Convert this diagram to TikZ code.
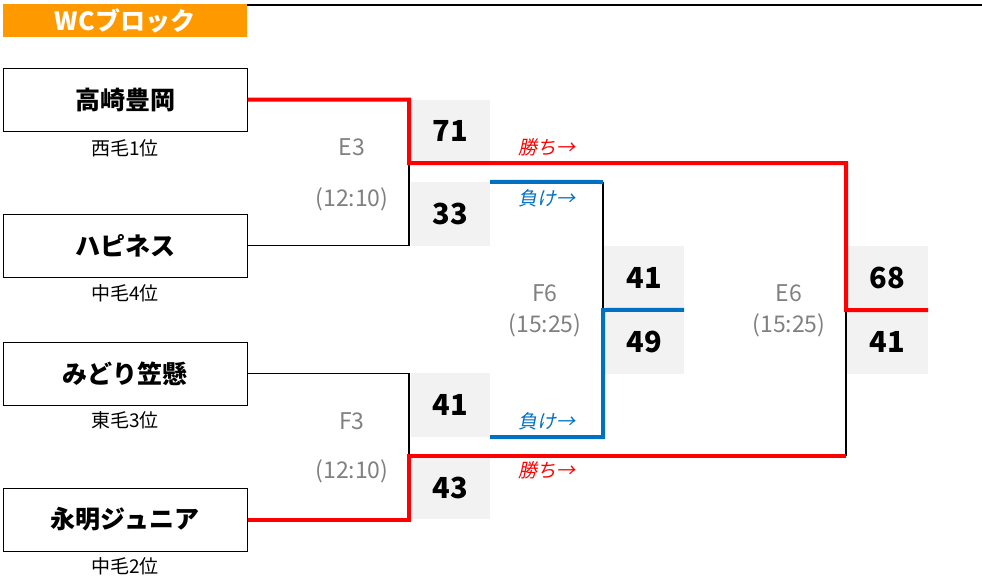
\documentclass[tikz,border=0pt]{standalone}
\usepackage{fontspec}
\setmainfont{Noto Sans CJK JP}
\newfontfamily\jpit{Noto Sans CJK JP}[FakeSlant=0.2]
\definecolor{hdrorange}{RGB}{255,153,0}
\definecolor{scoregray}{RGB}{242,242,242}
\definecolor{labelgray}{RGB}{128,128,128}
\definecolor{winred}{RGB}{255,0,0}
\definecolor{loseblue}{RGB}{0,112,192}
\tikzset{
  team/.style={draw=black, line width=1pt, minimum width=244pt, minimum height=63pt, inner sep=0pt, font=\bfseries\fontsize{25}{25}\selectfont},
  score/.style={fill=scoregray, minimum width=79pt, minimum height=64pt, inner sep=0pt, font=\bfseries\fontsize{29}{29}\selectfont},
  rank/.style={font=\fontsize{19}{19}\selectfont, inner sep=0pt},
  game/.style={text=labelgray, font=\fontsize{23}{23}\selectfont, inner sep=0pt},
  wintxt/.style={text=winred, font=\jpit\fontsize{19}{19}\selectfont, inner sep=0pt},
  losetxt/.style={text=loseblue, font=\jpit\fontsize{19}{19}\selectfont, inner sep=0pt},
  winl/.style={draw=winred, line width=4pt},
  losel/.style={draw=loseblue, line width=4pt},
  thinl/.style={draw=black, line width=1.2pt},
}
\begin{document}
\begin{tikzpicture}[x=1pt,y=-1pt]
\useasboundingbox (0,0) rectangle (982,582);
% header
\node[fill=hdrorange, minimum width=244pt, minimum height=33pt, inner sep=0pt, text=white, font=\bfseries\fontsize{25}{25}\selectfont] (hdr) at (125,20.5) {WCブロック};
\coordinate (topend) at (982,5);
\draw[line width=1.5pt] (hdr.north east |- topend) -- (topend);
% teams
\node[team] (t1) at (125,99.5) {高崎豊岡};
\node[team] (t2) at (125,245.5) {ハピネス};
\node[team] (t3) at (125,373.5) {みどり笠懸};
\node[team] (t4) at (125,519.5) {永明ジュニア};
\node[rank] (r1) at (125,148) {西毛1位};
\node[rank] (r2) at (125,293) {中毛4位};
\node[rank] (r3) at (125,420) {東毛3位};
\node[rank] (r4) at (125,566) {中毛2位};
% scores
\node[score, minimum height=63pt] (s71) at (450.5,131) {71};
\node[score] (s33) at (450.5,214) {33};
\node[score] (s41a) at (450.5,405) {41};
\node[score, minimum height=63pt] (s43) at (450.5,487.5) {43};
\node[score, minimum width=80pt] (s41b) at (644,278) {41};
\node[score, minimum width=80pt] (s49) at (644,342) {49};
\node[score, minimum width=81pt] (s68) at (887.5,278) {68};
\node[score, minimum width=81pt] (s41c) at (887.5,342) {41};
% game labels
\node[game] (e3) at (352,147) {E3};
\node[game] (e3t) at (352,199) {(12:10)};
\node[game] (f3) at (352,421) {F3};
\node[game] (f3t) at (352,471) {(12:10)};
\node[game] (f6) at (545,293) {F6};
\node[game] (f6t) at (545,325) {(15:25)};
\node[game] (e6) at (789,293) {E6};
\node[game] (e6t) at (789,325) {(15:25)};
\node[wintxt] (w1) at (547,147) {勝ち→};
\node[wintxt] (w2) at (547,470) {勝ち→};
\node[losetxt] (l1) at (547,198) {負け→};
\node[losetxt] (l2) at (547,421) {負け→};
% junctions
\coordinate (m1) at (409,163);
\coordinate (m2) at (409,456);
\coordinate (fj) at (603,310);
\coordinate (ftop) at (603,182);
\coordinate (fbot) at (603,437);
\coordinate (ej) at (846,310);
\coordinate (ebot) at (846,456);
% connectors
\draw[thinl] (t2.east) -| (m1);
\draw[thinl] (t3.east) -| (m2);
\draw[thinl] (ftop) -- (fj);
\draw[thinl] (ebot) -- (ej);
\draw[winl] (t1.east) -| (m1) -| (ej) -- (s68.south east);
\draw[winl] (t4.east) -| (m2) -- (ebot);
\draw[losel] (s33.north east) -- (ftop);
\draw[losel] (s41a.south east) -- (fbot) -- (fj) -- (s49.north east);
\end{tikzpicture}
\end{document}
